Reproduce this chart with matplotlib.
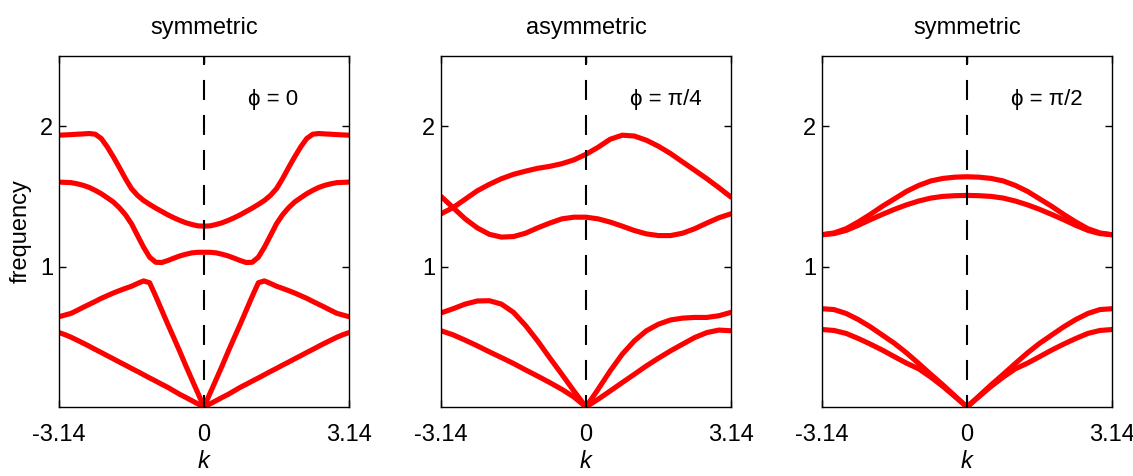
# Bandas de frecuencia para tres valores de fase phi
import numpy as np
import matplotlib
matplotlib.use("Agg")
import matplotlib.pyplot as plt

plt.rcParams['font.family'] = ['Liberation Sans', 'DejaVu Sans']

# Datos #
# panel 1 usa paso pi/24, los otros dos paso pi/12
k1 = np.linspace(-np.pi, np.pi, 49)
k = np.linspace(-np.pi, np.pi, 25)

titulos = ["symmetric", "asymmetric", "symmetric"]
etiquetas_phi = ["\u03d5 = 0", "\u03d5 = \u03c0/4", "\u03d5 = \u03c0/2"]

# phi = 0 (simetrico: mitad izquierda, de -pi a 0)
p1_b1_izq = [0.53, 0.515, 0.497, 0.476, 0.455, 0.433, 0.41, 0.388, 0.365, 0.343, 0.32, 0.298, 0.275,
             0.253, 0.23, 0.207, 0.185, 0.162, 0.14, 0.115, 0.09, 0.068, 0.045, 0.022, 0.0]
p1_b2_izq = [0.643, 0.655, 0.667, 0.688, 0.71, 0.731, 0.752, 0.774, 0.793, 0.812, 0.829, 0.845, 0.86,
             0.88, 0.898, 0.885, 0.79, 0.69, 0.59, 0.493, 0.395, 0.293, 0.195, 0.098, 0.0]
p1_b3_izq = [1.602, 1.60, 1.598, 1.59, 1.579, 1.564, 1.543, 1.519, 1.49, 1.46, 1.419, 1.369, 1.305,
             1.221, 1.138, 1.067, 1.031, 1.029, 1.043, 1.06, 1.076, 1.088, 1.098, 1.102, 1.102]
p1_b4_izq = [1.936, 1.938, 1.94, 1.943, 1.945, 1.948, 1.943, 1.912, 1.852, 1.781, 1.705, 1.626, 1.555,
             1.507, 1.471, 1.443, 1.417, 1.393, 1.369, 1.348, 1.329, 1.312, 1.30, 1.29, 1.288]

# phi = pi/4 (asimetrico, de -pi a pi)
p2_b1 = [0.543, 0.514, 0.476, 0.436, 0.393, 0.352, 0.31, 0.264, 0.22, 0.174, 0.126, 0.071, 0.0,
         0.055, 0.114, 0.174, 0.233, 0.293, 0.348, 0.40, 0.448, 0.495, 0.53, 0.548, 0.543]
p2_b2 = [0.67, 0.70, 0.733, 0.755, 0.757, 0.733, 0.674, 0.58, 0.47, 0.35, 0.233, 0.114, 0.0,
         0.126, 0.257, 0.376, 0.471, 0.543, 0.59, 0.62, 0.633, 0.638, 0.638, 0.65, 0.674]
p2_b3 = [1.50, 1.42, 1.34, 1.276, 1.23, 1.21, 1.214, 1.238, 1.276, 1.31, 1.34, 1.352, 1.352,
         1.34, 1.317, 1.288, 1.257, 1.233, 1.221, 1.221, 1.238, 1.27, 1.31, 1.348, 1.376]
p2_b4 = [1.376, 1.42, 1.48, 1.54, 1.586, 1.626, 1.657, 1.68, 1.70, 1.714, 1.733, 1.76, 1.80,
         1.85, 1.907, 1.936, 1.93, 1.90, 1.857, 1.805, 1.745, 1.686, 1.626, 1.562, 1.495]

# phi = pi/2 (simetrico: mitad izquierda)
p3_b1_izq = [0.552, 0.545, 0.524, 0.488, 0.448, 0.405, 0.358, 0.312, 0.272, 0.213, 0.147, 0.074, 0.0]
p3_b2_izq = [0.70, 0.694, 0.666, 0.623, 0.571, 0.512, 0.453, 0.385, 0.31, 0.233, 0.158, 0.079, 0.0]
p3_b3_izq = [1.227, 1.235, 1.258, 1.294, 1.334, 1.372, 1.408, 1.44, 1.467, 1.488, 1.50, 1.505, 1.507]
p3_b4_izq = [1.227, 1.24, 1.27, 1.318, 1.372, 1.43, 1.483, 1.536, 1.578, 1.61, 1.628, 1.637, 1.64]


def espejo(izq):
    # completa la mitad derecha de una banda simetrica
    return izq + izq[-2::-1]


paneles = [
    (k1, [espejo(p1_b1_izq), espejo(p1_b2_izq), espejo(p1_b3_izq), espejo(p1_b4_izq)]),
    (k, [p2_b1, p2_b2, p2_b3, p2_b4]),
    (k, [espejo(p3_b1_izq), espejo(p3_b2_izq), espejo(p3_b3_izq), espejo(p3_b4_izq)]),
]

# Creacion de la figura #
fig = plt.figure(figsize=(11.33, 4.76), dpi=100)
izquierdas = [59 / 1133, 441 / 1133, 822 / 1133]

for i in range(3):
    ax = fig.add_axes([izquierdas[i], 69 / 476, 290 / 1133, 351 / 476])
    kk, bandas = paneles[i]
    for b in bandas:
        ax.plot(kk, b, color="red", lw=3.7, solid_capstyle="round", solid_joinstyle="round")
    ax.plot([0, 0], [2.5, 0], color="black", lw=1.5, linestyle=(5.3, (9.6, 7.2)))

    ax.set_xlim(-np.pi, np.pi)
    ax.set_ylim(0, 2.5)
    ax.set_xticks([-3.14, 0, 3.14])
    ax.set_xticklabels(["-3.14", "0", "3.14"])
    ax.set_yticks([1, 2])
    ax.tick_params(direction="in", top=True, right=True, length=5, width=1, labelsize=17)
    ax.tick_params(axis="x", pad=12)
    ax.tick_params(axis="y", pad=4)
    for s in ax.spines.values():
        s.set_linewidth(1.0)

    ax.set_title(titulos[i], fontsize=17, pad=16)
    ax.set_xlabel("k", fontsize=17, style="italic", labelpad=3)
    if i == 0:
        ax.set_ylabel("frequency", fontsize=17, labelpad=6)
    ax.text(0.95, 2.19, etiquetas_phi[i], fontsize=16, ha="left", va="center")

fig.savefig("out.png", dpi=100)
